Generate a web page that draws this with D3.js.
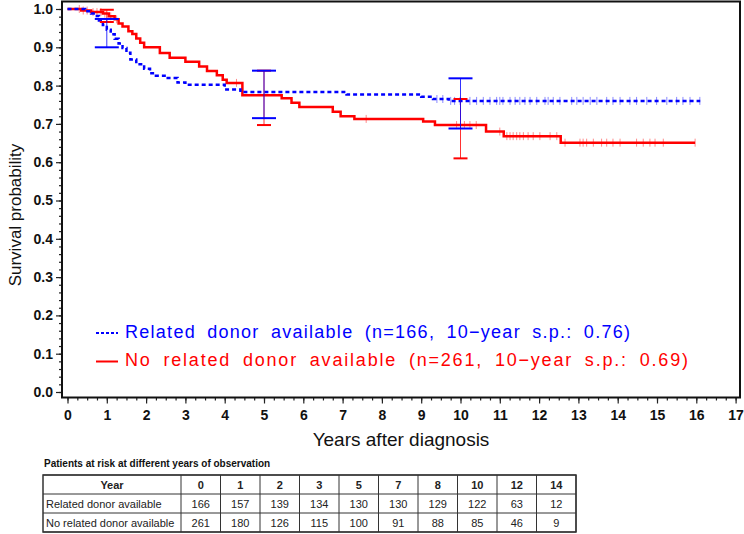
<!DOCTYPE html>
<html><head><meta charset="utf-8">
<script src="https://cdn.jsdelivr.net/npm/d3@7"></script>
<style>body{margin:0;background:#fff}svg{display:block}</style>
</head><body>
<svg id="c" width="744" height="534"></svg>
<script>
// ---- data ----
const relatedTimes = [0,0.45,0.6,0.7,0.8,0.9,1.0,1.1,1.2,1.3,1.4,1.5,1.6,1.75,1.95,2.1,2.25,2.55,2.8,3.0,4.0,4.4,7.1,9.0,9.3,9.7,16.1];
const relatedSurv  = [1.0,0.994,0.988,0.982,0.97,0.958,0.946,0.934,0.922,0.91,0.898,0.886,0.868,0.856,0.844,0.832,0.826,0.82,0.808,0.802,0.79,0.783,0.777,0.771,0.765,0.76,0.76];
const noRelTimes = [0,0.35,0.6,0.9,1.05,1.2,1.3,1.4,1.55,1.65,1.75,1.85,1.95,2.35,2.6,3.0,3.35,3.55,3.8,3.95,4.05,4.45,5.45,5.7,5.9,6.75,6.95,7.3,9.05,9.35,10.65,11.1,12.55,15.97];
const noRelSurv  = [1.0,0.996,0.992,0.988,0.981,0.973,0.962,0.954,0.942,0.935,0.923,0.912,0.9,0.885,0.873,0.862,0.85,0.838,0.827,0.815,0.807,0.775,0.767,0.755,0.744,0.732,0.72,0.713,0.706,0.697,0.68,0.668,0.651,0.651];
const relatedCensor = [9.4,9.55,9.75,9.85,9.99,10.24,10.41,10.58,10.75,10.92,11.0,11.08,11.26,11.39,11.51,11.64,11.77,11.94,12.15,12.23,12.36,12.53,12.83,12.96,13.12,13.3,13.47,13.72,13.88,14.06,14.31,14.48,14.74,14.99,15.25,15.5,15.66,15.84,16.09];
const noRelCensor = [0.3,0.4,0.5,0.65,0.75,0.85,0.95,1.1,1.25,4.3,7.6,9.9,10.1,10.24,10.4,11.0,11.18,11.26,11.34,11.43,11.51,11.6,11.72,11.85,12.02,12.28,12.45,12.66,13.04,13.12,13.21,13.38,13.59,13.72,13.88,14.06,14.48,14.65,14.82,14.95,15.16,15.97];
const ciTimes = [1,5,10];
const relatedLow = [0.90,0.715,0.688];
const relatedHigh = [0.974,0.839,0.819];
const noRelLow = [0.966,0.697,0.61];
const noRelHigh = [0.998,0.839,0.765];
const legendLabels = ["Related donor available (n=166, 10\u2212year s.p.: 0.76)","No related donor available (n=261, 10\u2212year s.p.: 0.69)"];
const tableTitle = "Patients at risk at different years of observation";
const tableYears = ["0","1","2","3","5","7","8","10","12","14"];
const tableRowNames = ["Related donor available","No related donor available"];
const relatedAtRisk = [166,157,139,134,130,130,129,122,63,12];
const noRelAtRisk = [261,180,126,115,100,91,88,85,46,9];

// ---- layout ----
const BLUE="#0000ff", RED="#ff0000";
const svg = d3.select("#c");
const frame = {l:62,r:740,t:1.5,b:397.5};
const x = d3.scaleLinear().domain([0,17]).range([67.5,735.6]);
const y = d3.scaleLinear().domain([0,1]).range([392,9]);
const font = "'Liberation Sans', Arial, Helvetica, sans-serif";

// axes
const yMinor = d3.axisLeft(y).tickValues(d3.range(0,1.0001,0.02)).tickSize(3).tickFormat("");
const yMajor = d3.axisLeft(y).tickValues(d3.range(0,1.0001,0.1)).tickSize(6).tickPadding(3).tickFormat(d3.format(".1f"));
const gy1 = svg.append("g").attr("transform",`translate(${frame.l},0)`).call(yMinor);
const gy2 = svg.append("g").attr("transform",`translate(${frame.l},0)`).call(yMajor);
const xMinor = d3.axisBottom(x).tickValues(d3.range(0,17.001,0.25)).tickSize(3).tickFormat("");
const xMajor = d3.axisBottom(x).tickValues(d3.range(0,18)).tickSize(6).tickPadding(7).tickFormat(d3.format("d"));
const gx1 = svg.append("g").attr("transform",`translate(0,${frame.b})`).call(xMinor);
const gx2 = svg.append("g").attr("transform",`translate(0,${frame.b})`).call(xMajor);
[gy1,gy2,gx1,gx2].forEach(g=>{g.select(".domain").remove(); g.selectAll("line").attr("stroke","#222").attr("stroke-width",1.2);});
svg.selectAll(".tick text").attr("font-family",font).attr("font-weight","bold").attr("font-size",14).attr("fill","#111");

// frame
svg.append("rect").attr("x",frame.l).attr("y",frame.t).attr("width",frame.r-frame.l).attr("height",frame.b-frame.t)
  .attr("fill","none").attr("stroke","#111").attr("stroke-width",2);

// titles
svg.append("text").attr("x",401).attr("y",446).attr("text-anchor","middle").attr("font-family",font)
  .attr("font-size",19).attr("fill","#111").text("Years after diagnosis");
svg.append("text").attr("transform","translate(21,215) rotate(-90)").attr("text-anchor","middle").attr("font-family",font)
  .attr("font-size",17).attr("fill","#111").text("Survival probability");

// curves
const line = d3.line().x(d=>x(d[0])).y(d=>y(d[1])).curve(d3.curveStepAfter);
const relData = relatedTimes.map((t,i)=>[t,relatedSurv[i]]);
const noData = noRelTimes.map((t,i)=>[t,noRelSurv[i]]);
function survAt(times,surv,t){let s=surv[0];for(let i=0;i<times.length;i++){if(times[i]<=t)s=surv[i];}return s;}

// censor marks
function censors(times,ts,ss,color){
  svg.append("g").selectAll("line").data(times).join("line")
    .attr("x1",d=>x(d)).attr("x2",d=>x(d))
    .attr("y1",d=>y(survAt(ts,ss,d))-4).attr("y2",d=>y(survAt(ts,ss,d))+4)
    .attr("stroke",color).attr("stroke-width",1).attr("opacity",0.45);
}
censors(noRelCensor,noRelTimes,noRelSurv,RED);
censors(relatedCensor,relatedTimes,relatedSurv,BLUE);

svg.append("path").datum(noData).attr("d",line).attr("fill","none").attr("stroke",RED).attr("stroke-width",2.5);
svg.append("path").datum(relData).attr("d",line).attr("fill","none").attr("stroke",BLUE).attr("stroke-width",2.5).attr("stroke-dasharray","4,3");

// error bars
function errbars(lo,hi,color,cap){
  const g = svg.append("g");
  ciTimes.forEach((t,i)=>{
    g.append("line").attr("x1",x(t)).attr("x2",x(t)).attr("y1",y(lo[i])).attr("y2",y(hi[i])).attr("stroke",color).attr("stroke-width",1).attr("opacity",0.8);
    [lo[i],hi[i]].forEach(v=>g.append("line").attr("x1",x(t)-cap/2).attr("x2",x(t)+cap/2).attr("y1",y(v)).attr("y2",y(v)).attr("stroke",color).attr("stroke-width",2));
  });
}
errbars(noRelLow,noRelHigh,RED,14);
errbars(relatedLow,relatedHigh,BLUE,24);

// legend
const lg = svg.append("g");
[[BLUE,"3,2",333,338,505],[RED,null,361.5,366,563]].forEach((c,i)=>{
  lg.append("line").attr("x1",96).attr("x2",118).attr("y1",c[2]).attr("y2",c[2]).attr("stroke",c[0]).attr("stroke-width",2).attr("stroke-dasharray",c[1]);
  lg.append("text").attr("x",125).attr("y",c[3]).attr("font-family",font).attr("font-size",18).attr("fill",c[0])
    .attr("word-spacing",5).attr("textLength",c[4]).attr("lengthAdjust","spacing").text(legendLabels[i]);
});

// table
svg.append("text").attr("x",44).attr("y",467).attr("font-family",font).attr("font-weight","bold").attr("font-size",10).attr("fill","#111").text(tableTitle);
const tx0=43, tx1=181, colW=(576-181)/tableYears.length, ty=[475,494,513,532];
const tg = svg.append("g");
const rows = [["Year",...tableYears],[tableRowNames[0],...relatedAtRisk],[tableRowNames[1],...noRelAtRisk]];
rows.forEach((r,ri)=>{
  r.forEach((v,ci)=>{
    const cx = ci===0 ? (ri===0 ? (tx0+tx1)/2 : tx0+3) : tx1+colW*(ci-0.5);
    tg.append("text").attr("x",cx).attr("y",(ty[ri]+ty[ri+1])/2+4).attr("text-anchor",(ci===0&&ri>0)?"start":"middle")
      .attr("font-family",font).attr("font-size",11).attr("font-weight",ri===0?"bold":"normal").attr("fill","#222").text(v);
  });
});
ty.forEach(v=>tg.append("line").attr("x1",tx0).attr("x2",576).attr("y1",v).attr("y2",v).attr("stroke","#333").attr("stroke-width",1));
d3.range(0,tableYears.length+1).forEach(i=>{const xx=tx1+colW*i;tg.append("line").attr("x1",xx).attr("x2",xx).attr("y1",ty[0]).attr("y2",ty[3]).attr("stroke","#333").attr("stroke-width",1);});
tg.append("rect").attr("x",tx0).attr("y",ty[0]).attr("width",576-tx0).attr("height",ty[3]-ty[0]).attr("fill","none").attr("stroke","#333").attr("stroke-width",1.5);
</script>
</body></html>
